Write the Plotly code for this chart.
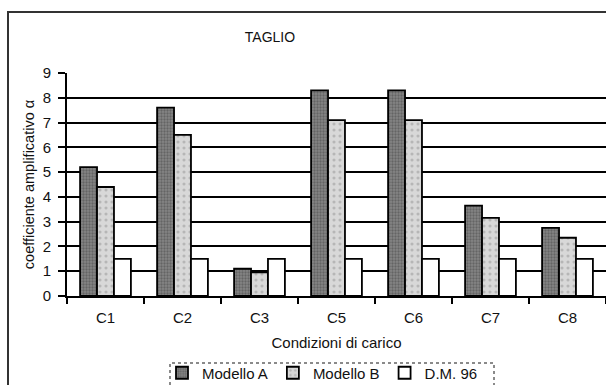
import plotly.graph_objects as go

# Load cases and shear amplification coefficients
categories = ["C1", "C2", "C3", "C5", "C6", "C7", "C8"]
modello_a = [5.2, 7.6, 1.1, 8.3, 8.3, 3.65, 2.75]
modello_b = [4.4, 6.5, 0.95, 7.1, 7.1, 3.15, 2.35]
dm_96 = [1.5, 1.5, 1.5, 1.5, 1.5, 1.5, 1.5]

FONT = "Liberation Sans, Arial, sans-serif"
TXT = "#111111"

fig = go.Figure()
fig.add_trace(go.Bar(
    x=categories, y=modello_a, name="Modello A",
    marker=dict(color="#858585", line=dict(color="#000000", width=1.8),
                pattern=dict(shape=".", fgcolor="#444444", size=3, solidity=0.45)),
))
fig.add_trace(go.Bar(
    x=categories, y=modello_b, name="Modello B",
    marker=dict(color="#d8d8d8", line=dict(color="#000000", width=1.8),
                pattern=dict(shape=".", fgcolor="#949494", size=6, solidity=0.22)),
))
fig.add_trace(go.Bar(
    x=categories, y=dm_96, name="D.M. 96",
    marker=dict(color="#ffffff", line=dict(color="#000000", width=1.8)),
))

# plot-area geometry in pixels (for placing decorations in paper units)
W, H = 606, 385
L, T, B = 67, 73, 89
pw, ph = W - L, H - T - B


def px_x(x):
    return (x - L) / pw


def px_y(y):
    return (H - B - y) / ph


fig.update_layout(
    width=W, height=H,
    margin=dict(l=L, r=0, t=T, b=B, autoexpand=False),
    paper_bgcolor="#ffffff", plot_bgcolor="#ffffff",
    barmode="group", bargap=0.34, bargroupgap=0,
    font=dict(family=FONT, size=14, color=TXT),
    title=dict(text="TAGLIO", x=270 / W, xanchor="center",
               y=1 - 37 / H, yanchor="middle",
               font=dict(family=FONT, size=14, color=TXT)),
    showlegend=True,
    legend=dict(orientation="h", x=px_x(162), xanchor="left",
                y=px_y(373), yanchor="middle",
                bgcolor="rgba(0,0,0,0)", borderwidth=0,
                font=dict(family=FONT, size=15, color=TXT),
                itemwidth=30, tracegroupgap=0),
    xaxis=dict(
        type="category", showgrid=False, zeroline=False,
        showline=True, linecolor="#000000", linewidth=1.8,
        ticks="outside", tickson="boundaries", ticklen=6,
        tickcolor="#000000", tickwidth=1.8, ticklabelstandoff=7,
        tickfont=dict(family=FONT, size=15, color=TXT),
        title=dict(text="Condizioni di carico", standoff=13,
                   font=dict(family=FONT, size=15, color=TXT)),
    ),
    yaxis=dict(
        range=[0, 9], dtick=1, tick0=0,
        showgrid=True, gridcolor="#000000", gridwidth=1.8,
        zeroline=False, showline=True, linecolor="#000000", linewidth=1.8,
        ticks="outside", ticklen=7, tickcolor="#000000", tickwidth=1.8,
        ticklabelstandoff=4,
        tickfont=dict(family=FONT, size=15, color=TXT),
        title=dict(text="coefficiente amplificativo α", standoff=5,
                   font=dict(family=FONT, size=14.5, color=TXT)),
    ),
)

# outer chart frame
fig.add_shape(type="rect", xref="paper", yref="paper",
              x0=px_x(8), y0=px_y(395), x1=px_x(620), y1=px_y(12),
              line=dict(color="#333333", width=2), fillcolor="rgba(0,0,0,0)",
              layer="below")
# dotted legend frame
fig.add_shape(type="rect", xref="paper", yref="paper",
              x0=px_x(170), y0=px_y(392), x1=px_x(494), y1=px_y(363),
              line=dict(color="#8a8a8a", width=2, dash="dot"),
              fillcolor="rgba(0,0,0,0)", layer="below")

fig.write_html("out.html")
